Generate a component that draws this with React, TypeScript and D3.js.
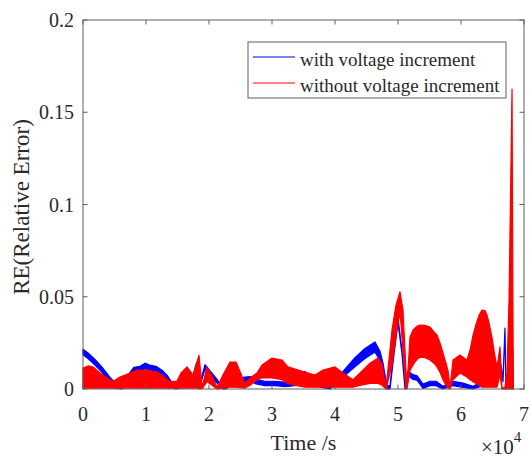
import React, { useEffect, useRef } from "react";
import * as d3 from "d3";

// time in seconds, envelope of the dense oscillation (lo / hi)
const redTime = [0, 794, 1587, 2698, 3810, 4762, 5873, 7460, 8571, 10159, 11746, 12700, 13810, 14920, 15560, 16500, 17460, 18410, 18900, 19680, 20480, 21270, 22220, 23330, 24290, 25710, 26510, 27620, 28410, 30000, 31590, 32540, 33650, 35240, 36830, 38100, 40000, 41270, 42860, 43970, 45560, 46830, 47460, 48100, 49050, 49680, 50320, 50790, 51270, 51430, 51900, 52380, 53020, 53490, 54290, 55080, 55710, 56190, 56670, 57140, 57620, 57940, 58250, 58730, 59840, 60950, 61430, 61900, 62380, 62860, 63330, 63810, 64130, 64440, 64920, 65240, 65710, 66190, 66510, 66980, 67300, 67620, 68100, 68300];
const redLo = [0.0005, 0.0005, 0.0005, 0.0005, 0.0005, 0.0005, 0.0005, 0.0005, 0.0005, 0.0005, 0.0005, 0.0005, 0.0005, 0.0005, 0.0005, 0.0005, 0.0005, 0.0005, 0, 0.004, 0.002, 0, 0.0005, 0.001, 0.001, 0.0005, 0.002, 0.005, 0.006, 0.006, 0.005, 0.003, 0.002, 0.001, 0.001, 0.001, 0.001, 0.001, 0.001, 0.002, 0.003, 0.003, 0.002, 0, 0.013, 0.029, 0.0417, 0.021, 0, 0, 0.010, 0.013, 0.016, 0.0173, 0.017, 0.0157, 0.014, 0.012, 0.009, 0.005, 0.002, 0.0005, 0, 0.005, 0.0087, 0.0065, 0.005, 0.004, 0.003, 0.002, 0.001, 0.001, 0.001, 0.001, 0.001, 0.001, 0.001, 0.0076, 0, 0, 0, 0, 0, 0];
const redHi = [0.0114, 0.0125, 0.012, 0.0087, 0.006, 0.004, 0.0065, 0.0087, 0.0103, 0.0103, 0.0092, 0.007, 0.004, 0.0043, 0.0087, 0.012, 0.0076, 0.0184, 0.001, 0.012, 0.007, 0.001, 0.0076, 0.0146, 0.0146, 0.003, 0.006, 0.0087, 0.013, 0.0168, 0.0157, 0.012, 0.0108, 0.0092, 0.0076, 0.0103, 0.012, 0.0087, 0.005, 0.0087, 0.014, 0.0168, 0.0135, 0.0005, 0.032, 0.0455, 0.0527, 0.043, 0.010, 0.0005, 0.028, 0.032, 0.034, 0.0347, 0.0345, 0.0336, 0.031, 0.0293, 0.025, 0.0195, 0.014, 0.010, 0.0005, 0.0157, 0.0184, 0.0157, 0.021, 0.029, 0.035, 0.040, 0.0428, 0.0425, 0.040, 0.036, 0.028, 0.021, 0.0114, 0.0228, 0.0005, 0.001, 0.009, 0.048, 0.1626, 0];

const blueTime = [0, 794, 1905, 3016, 4286, 5238, 6190, 7143, 8095, 9048, 9841, 10635, 11587, 12540, 13330, 14130, 14760, 15710, 16670, 17460, 18020, 18410, 19370, 20790, 22220, 22700, 23650, 24920, 26510, 27460, 28890, 30480, 32060, 33650, 35240, 36350, 37620, 39210, 41270, 43170, 44760, 46350, 47140, 47620, 48250, 48730, 49370, 50000, 50630, 51110, 51590, 52380, 53020, 53970, 55080, 56030, 57140, 58730, 60320, 61900, 63490, 64600, 65560, 66190, 66670, 66980, 67140, 67780, 68210, 68300];
const blueLo = [0.0185, 0.0165, 0.013, 0.009, 0.0035, 0.0005, 0, 0.0045, 0.009, 0.0093, 0.011, 0.0099, 0.0093, 0.0072, 0.0045, 0.001, 0, 0.001, 0.002, 0.0048, 0.0118, 0, 0.0108, 0.0048, 0, 0, 0.0028, 0.0038, 0.0043, 0.0028, 0.0018, 0.0018, 0.0013, 0.0018, 0.007, 0.0038, 0.001, 0, 0.0065, 0.012, 0.0165, 0.020, 0.0155, 0.010, 0, 0, 0.019, 0.036, 0.019, 0, 0.0072, 0.0052, 0.0048, 0.0003, 0.0018, 0.0018, 0, 0.0018, 0.0008, 0, 0.0018, 0.0048, 0.0108, 0.0135, 0.004, 0.031, 0, 0.004, 0.020, 0];
const blueHi = [0.0215, 0.0195, 0.016, 0.0118, 0.0063, 0.003, 0.0015, 0.0075, 0.0118, 0.0123, 0.014, 0.0129, 0.0123, 0.0102, 0.0075, 0.0035, 0.0012, 0.0035, 0.0045, 0.0072, 0.0142, 0.0015, 0.0132, 0.0072, 0.0012, 0.0012, 0.0052, 0.0062, 0.0067, 0.0052, 0.0042, 0.0042, 0.0037, 0.0042, 0.0095, 0.0062, 0.003, 0.002, 0.0095, 0.017, 0.022, 0.0255, 0.0205, 0.014, 0.0015, 0.002, 0.021, 0.0385, 0.021, 0.002, 0.0098, 0.0078, 0.0072, 0.0027, 0.0042, 0.0042, 0.0015, 0.0042, 0.0032, 0.0015, 0.0042, 0.0072, 0.0132, 0.016, 0.006, 0.033, 0.002, 0.006, 0.022, 0.001];

const xTicks = [0, 10000, 20000, 30000, 40000, 50000, 60000, 70000];
const yTicks = [0, 0.05, 0.1, 0.15, 0.2];
const legendLabels = ["with voltage increment", "without voltage increment"];
const seriesColors = ["#0000ff", "#ff0000"];

const App = () => {
    const svgRef = useRef<SVGSVGElement>(null);

    useEffect(() => {
        const svg = d3.select(svgRef.current);
        svg.selectAll("*").remove();

        const width = 531;
        const height = 458;
        const left = 83, right = 524, top = 20, bottom = 389;
        const font = "'Liberation Serif', 'Times New Roman', serif";
        const axisColor = "#5e5e5e";
        const textColor = "#2a2a2a";

        svg.attr("width", width).attr("height", height);
        svg.append("rect").attr("width", width).attr("height", height).attr("fill", "white");

        const x = d3.scaleLinear().domain([0, 70000]).range([left, right]);
        const y = d3.scaleLinear().domain([0, 0.2]).range([bottom, top]);

        const plot = svg.append("g");

        // blue band first, red drawn on top like in the original plot
        const series = [
            { t: blueTime, lo: blueLo, hi: blueHi, color: seriesColors[0] },
            { t: redTime, lo: redLo, hi: redHi, color: seriesColors[1] },
        ];
        series.forEach(s => {
            const pts = s.t.map((t, i) => ({ t, lo: s.lo[i], hi: s.hi[i] }));
            const area = d3.area<{ t: number; lo: number; hi: number }>()
                .x(d => x(d.t))
                .y0(d => y(d.lo))
                .y1(d => y(d.hi));
            plot.append("path")
                .attr("d", area(pts))
                .attr("fill", s.color)
                .attr("stroke", s.color)
                .attr("stroke-width", 1.2)
                .attr("stroke-linejoin", "round");
        });

        // axes box
        svg.append("rect")
            .attr("x", left).attr("y", top)
            .attr("width", right - left).attr("height", bottom - top)
            .attr("fill", "none")
            .attr("stroke", axisColor)
            .attr("stroke-width", 1);

        const tickLen = 4.5;
        xTicks.forEach(v => {
            const px = x(v);
            svg.append("line").attr("x1", px).attr("x2", px).attr("y1", bottom).attr("y2", bottom - tickLen)
                .attr("stroke", axisColor);
            svg.append("line").attr("x1", px).attr("x2", px).attr("y1", top).attr("y2", top + tickLen)
                .attr("stroke", axisColor);
            svg.append("text")
                .attr("x", px).attr("y", 421)
                .attr("text-anchor", "middle")
                .style("font-family", font).style("font-size", "20px").style("fill", textColor)
                .text(v / 10000);
        });

        yTicks.forEach(v => {
            const py = y(v);
            svg.append("line").attr("x1", left).attr("x2", left + tickLen).attr("y1", py).attr("y2", py)
                .attr("stroke", axisColor);
            svg.append("line").attr("x1", right).attr("x2", right - tickLen).attr("y1", py).attr("y2", py)
                .attr("stroke", axisColor);
            svg.append("text")
                .attr("x", left - 9).attr("y", py + 7)
                .attr("text-anchor", "end")
                .style("font-family", font).style("font-size", "20px").style("fill", textColor)
                .text(String(v));
        });

        // exponent
        const expo = svg.append("text")
            .attr("x", 481).attr("y", 454)
            .style("font-family", font).style("font-size", "21px").style("fill", textColor);
        expo.append("tspan").text("\u00d710");
        expo.append("tspan").attr("dy", -12).style("font-size", "15px").text("4");

        // axis labels
        svg.append("text")
            .attr("x", (left + right) / 2).attr("y", 450)
            .attr("text-anchor", "middle")
            .style("font-family", font).style("font-size", "22px").style("fill", textColor)
            .text("Time /s");

        svg.append("text")
            .attr("transform", `translate(29,${207}) rotate(-90)`)
            .attr("text-anchor", "middle")
            .style("font-family", font).style("font-size", "23px").style("fill", textColor)
            .text("RE(Relative Error)");

        // legend
        const legend = svg.append("g");
        legend.append("rect")
            .attr("x", 248).attr("y", 42).attr("width", 258).attr("height", 56)
            .attr("fill", "white")
            .attr("stroke", axisColor)
            .attr("stroke-width", 1);
        legendLabels.forEach((label, i) => {
            const ly = 57 + i * 26;
            legend.append("line")
                .attr("x1", 253).attr("x2", 295).attr("y1", ly).attr("y2", ly)
                .attr("stroke", seriesColors[i]).attr("stroke-width", 1);
            legend.append("text")
                .attr("x", 300).attr("y", 66 + i * 26)
                .style("font-family", font).style("font-size", "19px").style("fill", textColor)
                .text(label);
        });

        return () => {
            svg.selectAll("*").remove();
        };
    }, []);

    return (
        <div style={{ position: "absolute", left: 0, top: 0, width: "531px", height: "458px", background: "white" }}>
            <svg ref={svgRef} style={{ display: "block" }} />
        </div>
    );
};

export default App;
